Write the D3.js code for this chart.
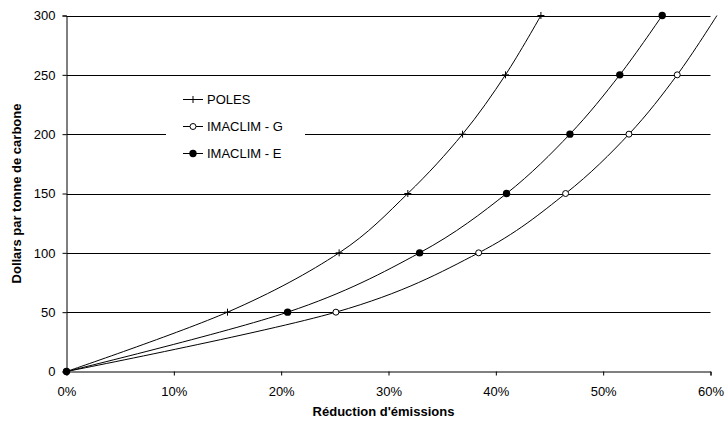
<!DOCTYPE html>
<html><head><meta charset="utf-8">
<script src="https://cdn.jsdelivr.net/npm/d3@7"></script>
<style>body{margin:0;background:#fff;} text{font-family:"Liberation Sans",Arial,sans-serif;}</style>
</head><body>
<svg id="chart" width="725" height="421"></svg>
<script>
// Data
const levels = [0, 50, 100, 150, 200, 250, 300];
const poles = [0, 15.0, 25.4, 31.8, 36.9, 40.9, 44.2];
const imaclimG = [0, 25.1, 38.4, 46.5, 52.4, 56.9, 60.6];
const imaclimE = [0, 20.6, 32.9, 41.0, 46.9, 51.55, 55.5];
const seriesNames = ["POLES", "IMACLIM - G", "IMACLIM - E"];
const xTicks = [0, 10, 20, 30, 40, 50, 60];
const yTicks = [0, 50, 100, 150, 200, 250, 300];

const svg = d3.select("#chart");
const x = d3.scaleLinear().domain([0, 60]).range([66.5, 710.5]);
const y = d3.scaleLinear().domain([0, 300]).range([371.5, 15.5]);

// gridlines
svg.append("g").selectAll("line").data(yTicks.filter(d => d > 0)).join("line")
  .attr("x1", x(0)).attr("x2", x(60))
  .attr("y1", d => Math.round(y(d)) + 0.5).attr("y2", d => Math.round(y(d)) + 0.5)
  .attr("stroke", "#000").attr("stroke-width", 1);

// axes
const yAxis = d3.axisLeft(y).tickValues(yTicks).tickSize(4).tickPadding(7).tickFormat(d3.format("d"));
const gy = svg.append("g").attr("transform", `translate(${x(0)},0)`).call(yAxis);
const xAxis = d3.axisBottom(x).tickValues(xTicks).tickSize(4).tickPadding(11.5).tickFormat(d => d + "%");
const gx = svg.append("g").attr("transform", `translate(0,${Math.round(y(0)) - 0.5})`).call(xAxis);
[gx, gy].forEach(g => {
  g.select(".domain").attr("stroke", "#000");
  g.selectAll(".tick line").attr("stroke", "#000");
  g.selectAll(".tick text").attr("font-size", "13px").attr("fill", "#000")
    .attr("font-family", '"Liberation Sans", Arial, sans-serif');
});

// axis titles
svg.append("text").attr("x", 383.5).attr("y", 415.5).attr("text-anchor", "middle")
  .attr("font-size", "13px").attr("font-weight", "bold").text("Réduction d'émissions");
svg.append("text").attr("transform", `translate(21,${y(150)}) rotate(-90)`).attr("text-anchor", "middle")
  .attr("font-size", "13px").attr("font-weight", "bold").text("Dollars par tonne de carbone");

// series
const all = [poles, imaclimG, imaclimE];
const line = d3.line().x(d => x(d[0])).y(d => y(d[1])).curve(d3.curveCardinal.tension(0));
function drawMarker(g, kind, cx, cy) {
  if (kind === 0) {
    g.append("line").attr("x1", cx).attr("x2", cx).attr("y1", cy - 3.5).attr("y2", cy + 3.5).attr("stroke", "#000").attr("stroke-width", 1);
    g.append("line").attr("x1", cx - 3.5).attr("x2", cx + 3.5).attr("y1", cy).attr("y2", cy).attr("stroke", "#000").attr("stroke-width", 1);
  } else if (kind === 1) {
    g.append("circle").attr("cx", cx).attr("cy", cy).attr("r", 3).attr("fill", "#fff").attr("stroke", "#000").attr("stroke-width", 1);
  } else {
    g.append("circle").attr("cx", cx).attr("cy", cy).attr("r", 3.7).attr("fill", "#000");
  }
}
all.forEach((vals, i) => {
  const pts = vals.map((v, j) => [v, levels[j]]);
  svg.append("path").datum(pts).attr("d", line).attr("fill", "none").attr("stroke", "#000").attr("stroke-width", 1);
  const g = svg.append("g");
  pts.filter(p => p[0] <= 60).forEach(p => drawMarker(g, i, x(p[0]), y(p[1])));
});

// legend
const lg = svg.append("g");
lg.append("rect").attr("x", 166).attr("y", 84).attr("width", 139).attr("height", 82).attr("fill", "#fff");
seriesNames.forEach((name, i) => {
  const cy = 99.5 + i * 27;
  lg.append("line").attr("x1", 183).attr("x2", 203).attr("y1", cy).attr("y2", cy).attr("stroke", "#000");
  drawMarker(lg, i, 193, cy);
  lg.append("text").attr("x", 207).attr("y", cy + 4.7).attr("font-size", "13px").text(name);
});
</script>
</body></html>
